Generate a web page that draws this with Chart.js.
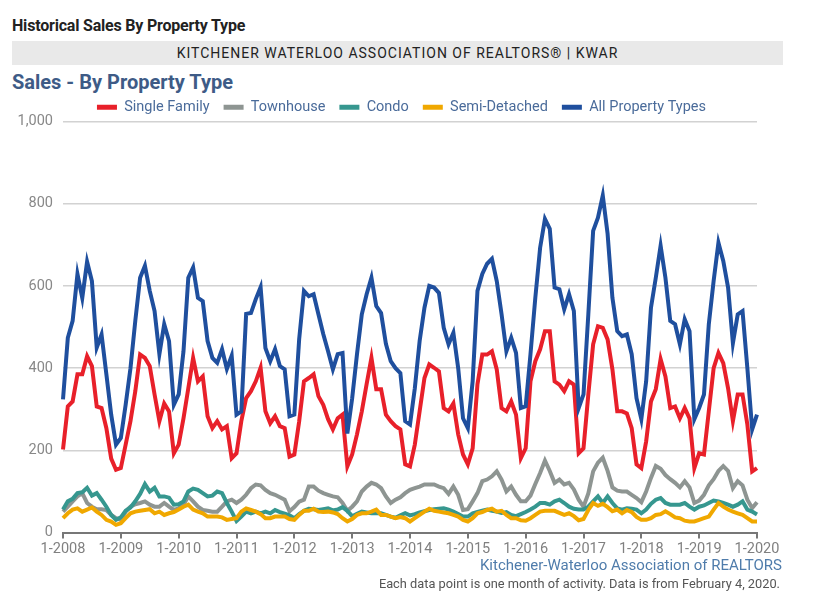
<!DOCTYPE html>
<html>
<head>
<meta charset="utf-8">
<script src="https://cdn.jsdelivr.net/npm/chart.js@4"></script>
<style>
  body { margin: 0; background: #fff; font-family: Roboto, "Liberation Sans", sans-serif; }
  .abs { position: absolute; white-space: nowrap; }
  #title { left: 12px; top: 16px; font-size: 16px; font-weight: bold; color: #222; letter-spacing: -0.2px; }
  #band { left: 12px; top: 41px; width: 771px; height: 24px; line-height: 24px; background: #e9e9e9;
          text-align: center; font-size: 14px; letter-spacing: 1px; color: #222; }
  #sub { left: 12px; top: 70px; font-size: 20px; font-weight: bold; color: #3e5b86; }
  #wrap { position: absolute; left: 0; top: 82.5px; width: 800px; height: 477px; }
  #source { left: 0; width: 782px; top: 556px; text-align: right; font-size: 15px; color: #4f7cab; }
  #note { left: 0; width: 780px; top: 576px; text-align: right; font-size: 12.8px; color: #555; }
</style>
</head>
<body>
<div class="abs" id="title">Historical Sales By Property Type</div>
<div class="abs" id="band">KITCHENER WATERLOO ASSOCIATION OF REALTORS® | KWAR</div>
<div class="abs" id="sub">Sales - By Property Type</div>
<div id="wrap"><canvas id="salesChart"></canvas></div>
<div class="abs" id="source">Kitchener-Waterloo Association of REALTORS</div>
<div class="abs" id="note">Each data point is one month of activity. Data is from February 4, 2020.</div>

<script>
// Monthly data, 1-2008 .. 1-2020
const firstYear = 2008;
const lastYear = 2020;

const singleFamily = [
  202, 307, 319, 385, 385, 429, 405, 307, 303, 254, 180, 153,
  157, 214, 271, 344, 433, 425, 405, 336, 271, 314, 295, 193,
  214, 278, 351, 425, 368, 380, 283, 254, 271, 251, 259, 181,
  193, 271, 327, 344, 368, 401, 295, 266, 283, 259, 254, 185,
  190, 270, 368, 376, 385, 332, 311, 276, 251, 278, 287, 161,
  190, 239, 295, 361, 425, 349, 349, 287, 271, 259, 251, 166,
  161, 214, 295, 376, 409, 401, 392, 303, 295, 314, 239, 190,
  166, 205, 361, 433, 433, 441, 397, 303, 295, 319, 287, 181,
  205, 368, 417, 446, 490, 490, 368, 360, 344, 368, 360, 193,
  205, 336, 458, 502, 498, 470, 397, 295, 295, 290, 254, 166,
  157, 222, 319, 349, 422, 380, 303, 307, 278, 303, 278, 157,
  193, 190, 295, 400, 437, 412, 351, 271, 336, 336, 263, 149,
  157
];

const townhouse = [
  51, 63, 76, 88, 96, 72, 63, 57, 57, 55, 43, 35,
  31, 51, 63, 69, 72, 76, 68, 63, 63, 72, 63, 55,
  59, 68, 88, 76, 63, 55, 53, 51, 51, 63, 76, 80,
  72, 80, 92, 108, 117, 115, 104, 96, 92, 86, 80, 52,
  62, 75, 80, 112, 112, 102, 96, 92, 88, 86, 72, 53,
  63, 76, 100, 112, 121, 117, 108, 88, 72, 80, 86, 96,
  104, 108, 112, 117, 117, 117, 112, 108, 94, 112, 92, 55,
  57, 76, 96, 125, 129, 137, 149, 129, 100, 112, 92, 76,
  76, 90, 118, 145, 175, 150, 121, 129, 117, 121, 105, 80,
  63, 95, 149, 170, 182, 150, 110, 102, 100, 100, 92, 84,
  74, 100, 133, 162, 155, 140, 130, 121, 110, 125, 110, 72,
  78, 92, 115, 130, 150, 162, 150, 108, 125, 115, 80, 60,
  74
];

const condo = [
  56, 76, 82, 96, 98, 109, 90, 96, 80, 63, 43, 31,
  37, 53, 61, 76, 94, 118, 100, 109, 88, 88, 85, 68,
  69, 76, 100, 107, 104, 96, 88, 90, 100, 96, 72, 51,
  28, 39, 51, 47, 51, 47, 51, 47, 55, 50, 46, 42,
  35, 45, 53, 58, 57, 55, 57, 59, 54, 56, 62, 53,
  40, 46, 51, 49, 47, 47, 47, 43, 39, 36, 42, 47,
  42, 45, 49, 52, 55, 57, 58, 59, 56, 51, 45, 39,
  39, 47, 50, 53, 56, 53, 51, 48, 50, 43, 40, 45,
  50, 56, 63, 72, 72, 68, 76, 80, 72, 63, 58, 56,
  56, 63, 76, 88, 72, 88, 72, 59, 56, 59, 58, 56,
  47, 56, 70, 80, 84, 72, 68, 68, 68, 72, 63, 56,
  63, 66, 72, 78, 76, 72, 68, 63, 68, 76, 56, 51,
  44
];

const semiDetached = [
  35, 47, 56, 59, 51, 56, 61, 51, 43, 31, 27, 19,
  23, 35, 47, 51, 53, 55, 57, 47, 51, 43, 47, 50,
  56, 63, 68, 56, 51, 47, 39, 39, 39, 37, 31, 33,
  35, 51, 59, 55, 51, 45, 35, 35, 39, 39, 39, 33,
  31, 43, 53, 53, 58, 51, 50, 51, 49, 45, 35, 27,
  33, 43, 47, 47, 51, 56, 43, 43, 39, 35, 38, 35,
  27, 35, 43, 51, 58, 53, 51, 49, 47, 43, 39, 31,
  27, 35, 47, 50, 55, 58, 51, 53, 43, 35, 35, 30,
  29, 35, 43, 51, 53, 53, 53, 48, 43, 47, 40, 30,
  33, 55, 72, 65, 70, 62, 52, 56, 47, 55, 50, 38,
  31, 31, 35, 43, 45, 52, 45, 37, 35, 29, 27, 27,
  31, 35, 39, 56, 72, 63, 56, 51, 47, 43, 35, 27,
  27
];

const allTypes = [
  324, 474, 515, 629, 571, 659, 612, 450, 482, 385, 287, 214,
  230, 311, 400, 515, 620, 649, 588, 539, 434, 507, 466, 311,
  336, 441, 620, 645, 571, 563, 466, 425, 413, 446, 398, 430,
  287, 295, 532, 534, 568, 597, 449, 417, 446, 405, 397, 283,
  287, 470, 588, 575, 580, 531, 483, 441, 397, 434, 437, 241,
  327, 434, 531, 580, 620, 551, 534, 459, 417, 400, 388, 271,
  263, 351, 466, 547, 600, 596, 583, 498, 458, 486, 400, 278,
  254, 368, 588, 629, 654, 666, 612, 531, 441, 474, 437, 303,
  307, 434, 571, 693, 763, 739, 596, 592, 543, 580, 539, 303,
  336, 531, 734, 766, 820, 727, 571, 490, 478, 482, 434, 327,
  276, 368, 547, 620, 698, 620, 515, 507, 458, 519, 490, 276,
  303, 336, 507, 612, 705, 661, 596, 461, 531, 539, 400, 251,
  287
];

const seriesNames = ["Single Family", "Townhouse", "Condo", "Semi-Detached", "All Property Types"];
const seriesColors = ["#e8202a", "#8e9592", "#36978f", "#f0a800", "#1f4f9e"];
const yTicks = [0, 200, 400, 600, 800, 1000];

// month labels like "1-2008"
const monthLabels = [];
for (let y = firstYear; y <= lastYear; y++) {
  for (let m = 1; m <= 12; m++) {
    if (y === lastYear && m > 1) break;
    monthLabels.push(m + "-" + y);
  }
}

const seriesData = [singleFamily, townhouse, condo, semiDetached, allTypes];
// later series are drawn on top
const drawOrder = [4, 3, 2, 1, 0];

// nudge the legend so it sits centred over the plot, a bit closer to it
const legendNudge = {
  id: "legendNudge",
  afterLayout(chart) {
    const lg = chart.legend;
    if (!lg) return;
    lg.left += 23; lg.right += 23;
    lg.top += 3; lg.bottom += 3;
  }
};

const ctx = document.getElementById("salesChart").getContext("2d");

new Chart(ctx, {
  type: "line",
  data: {
    labels: monthLabels,
    datasets: seriesData.map((vals, i) => ({
      label: seriesNames[i],
      data: vals,
      borderColor: seriesColors[i],
      backgroundColor: seriesColors[i],
      borderWidth: 4,
      pointRadius: 0,
      tension: 0,
      order: drawOrder[i]
    }))
  },
  plugins: [legendNudge],
  options: {
    responsive: true,
    maintainAspectRatio: false,
    animation: false,
    layout: { padding: { left: 0, right: 43, top: 0, bottom: 0 } },
    plugins: {
      tooltip: { enabled: false },
      legend: {
        position: "top",
        labels: {
          boxWidth: 20,
          boxHeight: 5,
          padding: 14,
          color: "#4a6b9a",
          font: { family: "Roboto", size: 14.5 },
          sort: (a, b) => a.datasetIndex - b.datasetIndex,
          generateLabels: (chart) =>
            Chart.defaults.plugins.legend.labels.generateLabels(chart)
              .map(l => ({ ...l, lineWidth: 0 }))
        }
      }
    },
    scales: {
      x: {
        offset: false,
        border: { color: "#777", width: 2 },
        grid: {
          drawOnChartArea: false,
          drawTicks: true,
          tickLength: 6,
          color: "#777",
          lineWidth: 2
        },
        ticks: {
          autoSkip: false,
          maxRotation: 0,
          padding: 2,
          color: "#808080",
          font: { family: "Roboto", size: 14.5 },
          callback: function (val, i) {
            const lab = monthLabels[i];
            return lab.startsWith("1-") ? lab : null;
          }
        }
      },
      y: {
        min: 0,
        max: 1000,
        afterBuildTicks: (scale) => { scale.ticks = yTicks.map(v => ({ value: v })); },
        afterFit: (scale) => { scale.width = 63; },
        border: { display: false },
        grid: { color: "#d2d2d2", lineWidth: 1.5, drawTicks: false },
        ticks: {
          padding: 10,
          color: "#888",
          font: { family: "Roboto", size: 14.5 }
        }
      }
    }
  }
});
</script>
</body>
</html>
